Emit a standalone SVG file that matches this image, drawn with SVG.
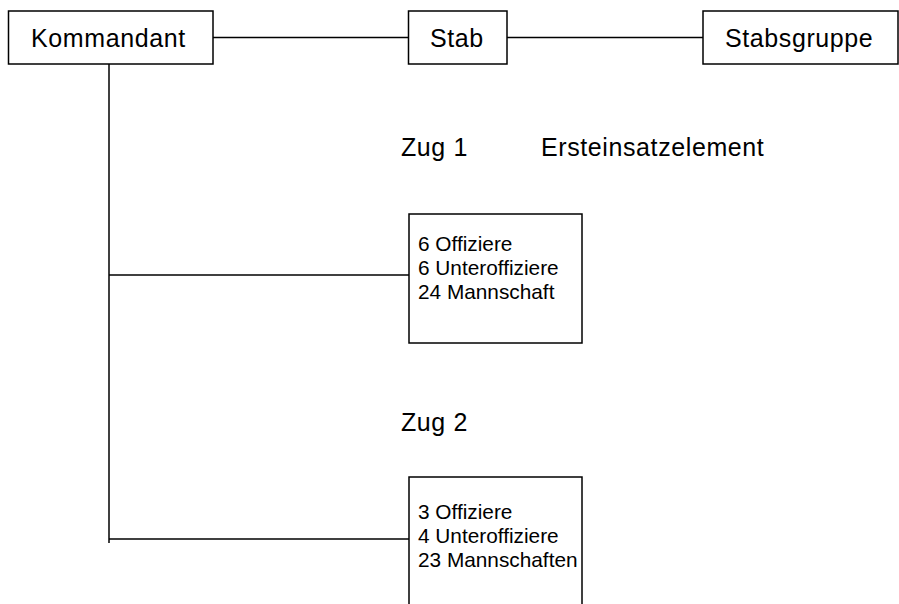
<svg xmlns="http://www.w3.org/2000/svg" width="899" height="604" viewBox="0 0 899 604">
<style>
.box{fill:#fff;stroke:#000;stroke-width:1.5}
.ln{fill:none;stroke:#000;stroke-width:1.5}
text{font-family:"Liberation Sans",Arial,sans-serif;font-size:25px;fill:#000;letter-spacing:0.6px}
text.in{font-size:20.8px;letter-spacing:0}
</style>
<rect width="899" height="604" fill="#fff"/>
<g id="connectors">
<line class="ln" x1="213" y1="37.5" x2="408.5" y2="37.5"/>
<line class="ln" x1="507" y1="37.5" x2="703" y2="37.5"/>
<line class="ln" x1="109" y1="64" x2="109" y2="543"/>
<line class="ln" x1="109" y1="275" x2="409" y2="275"/>
<line class="ln" x1="109" y1="539" x2="409" y2="539"/>
</g>
<g id="kommandant">
<rect class="box" x="8.5" y="11" width="204.5" height="53"/>
<text x="31" y="47">Kommandant</text>
</g>
<g id="stab">
<rect class="box" x="408.5" y="11" width="98.5" height="53"/>
<text x="430" y="47">Stab</text>
</g>
<g id="stabsgruppe">
<rect class="box" x="703" y="11" width="195" height="53"/>
<text x="725" y="47">Stabsgruppe</text>
</g>
<g id="zug1-label">
<text x="401" y="156">Zug 1</text>
<text x="541" y="156">Ersteinsatzelement</text>
</g>
<g id="zug1">
<rect class="box" x="409" y="214" width="173" height="129"/>
<text class="in" x="418" y="251">6 Offiziere</text>
<text class="in" x="418" y="275">6 Unteroffiziere</text>
<text class="in" x="418" y="299">24 Mannschaft</text>
</g>
<g id="zug2-label">
<text x="401" y="431">Zug 2</text>
</g>
<g id="zug2">
<rect class="box" x="409" y="477" width="173" height="150"/>
<text class="in" x="418" y="519">3 Offiziere</text>
<text class="in" x="418" y="543">4 Unteroffiziere</text>
<text class="in" x="418" y="567">23 Mannschaften</text>
</g>
</svg>
